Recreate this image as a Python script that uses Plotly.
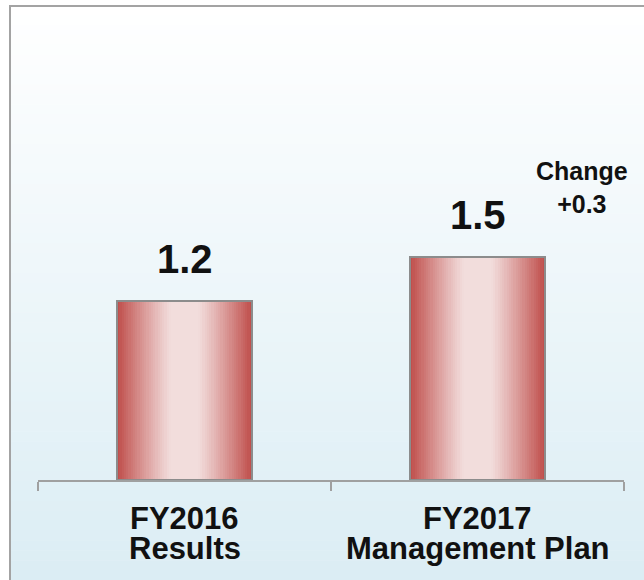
import plotly.graph_objects as go

# ---- data ----
years = ["FY2016", "FY2017"]
sublabels = ["Results", "Management Plan"]
values = [1.2, 1.5]
change_label = "Change"

# ---- style ----
W_PX, H_PX = 644, 580
M_L, M_R, M_T, M_B = 38, 20, 33, 100
FONT = "Liberation Sans, Arial, sans-serif"
BAR_W = 0.46
EDGE = (192, 80, 77)
CENTER = (242, 221, 220)


def mix(a, b, f):
    return "rgb(%d,%d,%d)" % tuple(round(a[i] + (b[i] - a[i]) * f) for i in range(3))


fig = go.Figure()

# bar with horizontal gradient, built from overlaid bars of decreasing width
N = 30
for k in range(N):
    t = 1 - k / N  # 1 at outer edge, ->0 at centre
    f = max(0.0, min(1.0, (t - 0.22) / 0.78)) ** 1.1
    fig.add_trace(go.Bar(
        x=years, y=values, width=BAR_W * t,
        marker=dict(color=mix(CENTER, EDGE, f), line=dict(width=0)),
        hoverinfo="skip", showlegend=False))
# outline on top
fig.add_trace(go.Bar(
    x=years, y=values, width=BAR_W,
    marker=dict(color="rgba(0,0,0,0)", line=dict(color="#8c8c8c", width=2)),
    hoverinfo="skip", showlegend=False))

# ---- background gradient + frame (paper coords) ----
pw = W_PX - M_L - M_R
ph = H_PX - M_T - M_B


def px2x(px):
    return (px - M_L) / pw


def py2y(py):
    return (H_PX - M_B - py) / ph


shapes = []
top, bot = 5, 580
nb = 58
for i in range(nb):
    y0 = top + (bot - top) * i / nb
    y1 = top + (bot - top) * (i + 1) / nb
    f = (i + 0.5) / nb
    shapes.append(dict(type="rect", xref="paper", yref="paper",
                       x0=px2x(9), x1=px2x(W_PX + 2), y0=py2y(y1 + 0.5), y1=py2y(y0),
                       fillcolor=mix((255, 255, 255), (219, 237, 244), f),
                       line=dict(width=0), layer="below"))
shapes.append(dict(type="line", xref="paper", yref="paper",
                   x0=px2x(10), x1=px2x(10), y0=py2y(5), y1=py2y(H_PX + 2),
                   line=dict(color="#a3a3a3", width=2), layer="below"))
shapes.append(dict(type="line", xref="paper", yref="paper",
                   x0=px2x(9), x1=px2x(W_PX + 2), y0=py2y(6), y1=py2y(6),
                   line=dict(color="#a3a3a3", width=2), layer="below"))

# ---- annotations ----
ann = []
for yr, sub, v in zip(years, sublabels, values):
    ann.append(dict(x=yr, y=v, xref="x", yref="y", text=f"{v:.1f}",
                    showarrow=False, yanchor="middle", yshift=42,
                    font=dict(family=FONT, size=40, color="#111111", weight="bold")))
    ann.append(dict(x=yr, y=0, xref="x", yref="y", text=yr,
                    showarrow=False, yanchor="middle", yshift=-38,
                    font=dict(family=FONT, size=31, color="#111111", weight="bold")))
    ann.append(dict(x=yr, y=0, xref="x", yref="y", text=sub,
                    showarrow=False, yanchor="middle", yshift=-68,
                    font=dict(family=FONT, size=31, color="#111111", weight="bold")))

diff = values[1] - values[0]
ann.append(dict(x=years[1], y=values[1], xref="x", yref="y",
                text=f"{change_label}<br>{diff:+.1f}",
                showarrow=False, yanchor="middle", xshift=104, yshift=69,
                font=dict(family=FONT, size=25, color="#111111", weight="bold")))

fig.update_layout(
    width=W_PX, height=H_PX,
    margin=dict(l=M_L, r=M_R, t=M_T, b=M_B, pad=0),
    paper_bgcolor="white", plot_bgcolor="rgba(0,0,0,0)",
    barmode="overlay", bargap=0,
    shapes=shapes, annotations=ann,
    xaxis=dict(type="category", range=[-0.5, 1.5], tickson="boundaries",
               ticks="outside", ticklen=9, tickwidth=2, tickcolor="#a0a0a0",
               showline=True, linecolor="#a0a0a0", linewidth=2,
               showticklabels=False, showgrid=False, zeroline=False, fixedrange=True),
    yaxis=dict(range=[0, 3], visible=False, showgrid=False, zeroline=False, fixedrange=True),
)

fig.write_html("out.html", config={"displayModeBar": False},
               post_script="document.body.style.margin='0';document.body.style.overflow='hidden';")
